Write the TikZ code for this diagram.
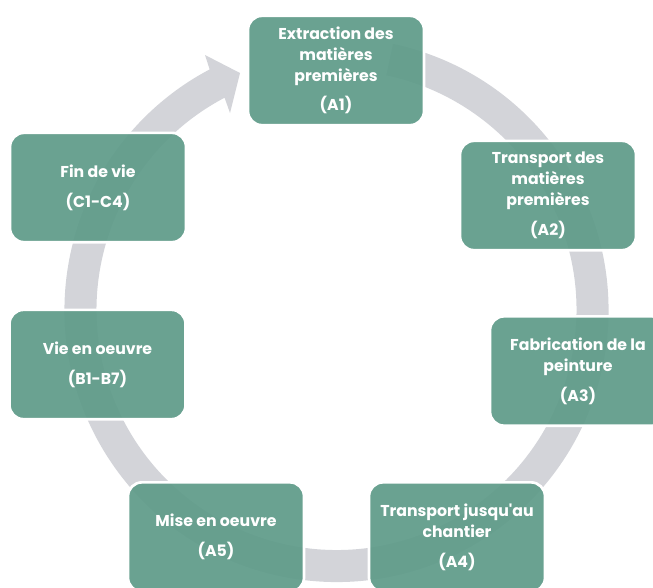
\documentclass[tikz,border=0pt]{standalone}
\usepackage{fontspec}
\setmainfont{Poppins}[Ligatures=TeXOff]
\usetikzlibrary{calc}
\definecolor{boxgreen}{HTML}{5F9B89}
\definecolor{ringgray}{HTML}{D3D4D9}
\tikzset{
  stagebox/.style={draw=white, line width=2pt, fill=boxgreen, fill opacity=0.93, text opacity=1,
    rounded corners=10.5pt, minimum width=132pt, minimum height=82pt, inner sep=0pt,
    text=white, align=center, font=\fontsize{11.8}{15.75}\selectfont\bfseries},
  ringfill/.style={fill=ringgray}
}
\begin{document}
\begin{tikzpicture}[x=0.75pt,y=-0.75pt]
\useasboundingbox (0,0) rectangle (653,587);
\clip (0,0) rectangle (653,587);
\coordinate (C) at (336.5,310);
% ring with arrow head
\fill[ringfill] ($(C)+(-78:272)$) arc[start angle=-78, end angle=242.2, radius=272]
  -- (205,55) -- (240,73) -- (230,113) -- ($(C)+(242.2:240)$)
  arc[start angle=242.2, end angle=-78, radius=240] -- cycle;
% stages
\node[stagebox] (a1) at (336,70.5) {Extraction des\\ matières\\ premières\\[6.5pt] (A1)};
\node[stagebox] (a2) at (548,195.5) {Transport des\\ matières\\ premières\\[6.5pt] (A2)};
\node[stagebox] (a3) at (578,371) {Fabrication de la\\ peinture\\[6.5pt] (A3)};
\node[stagebox] (a4) at (457,537) {Transport jusqu'au\\ chantier\\[6.5pt] (A4)};
\node[stagebox] (a5) at (216,537) {Mise en oeuvre\\[6.5pt] (A5)};
\node[stagebox] (b) at (97.5,364.5) {Vie en oeuvre\\[6.5pt] (B1-B7)};
\node[stagebox] (c) at (98,187.5) {Fin de vie\\[6.5pt] (C1-C4)};
\end{tikzpicture}
\end{document}
